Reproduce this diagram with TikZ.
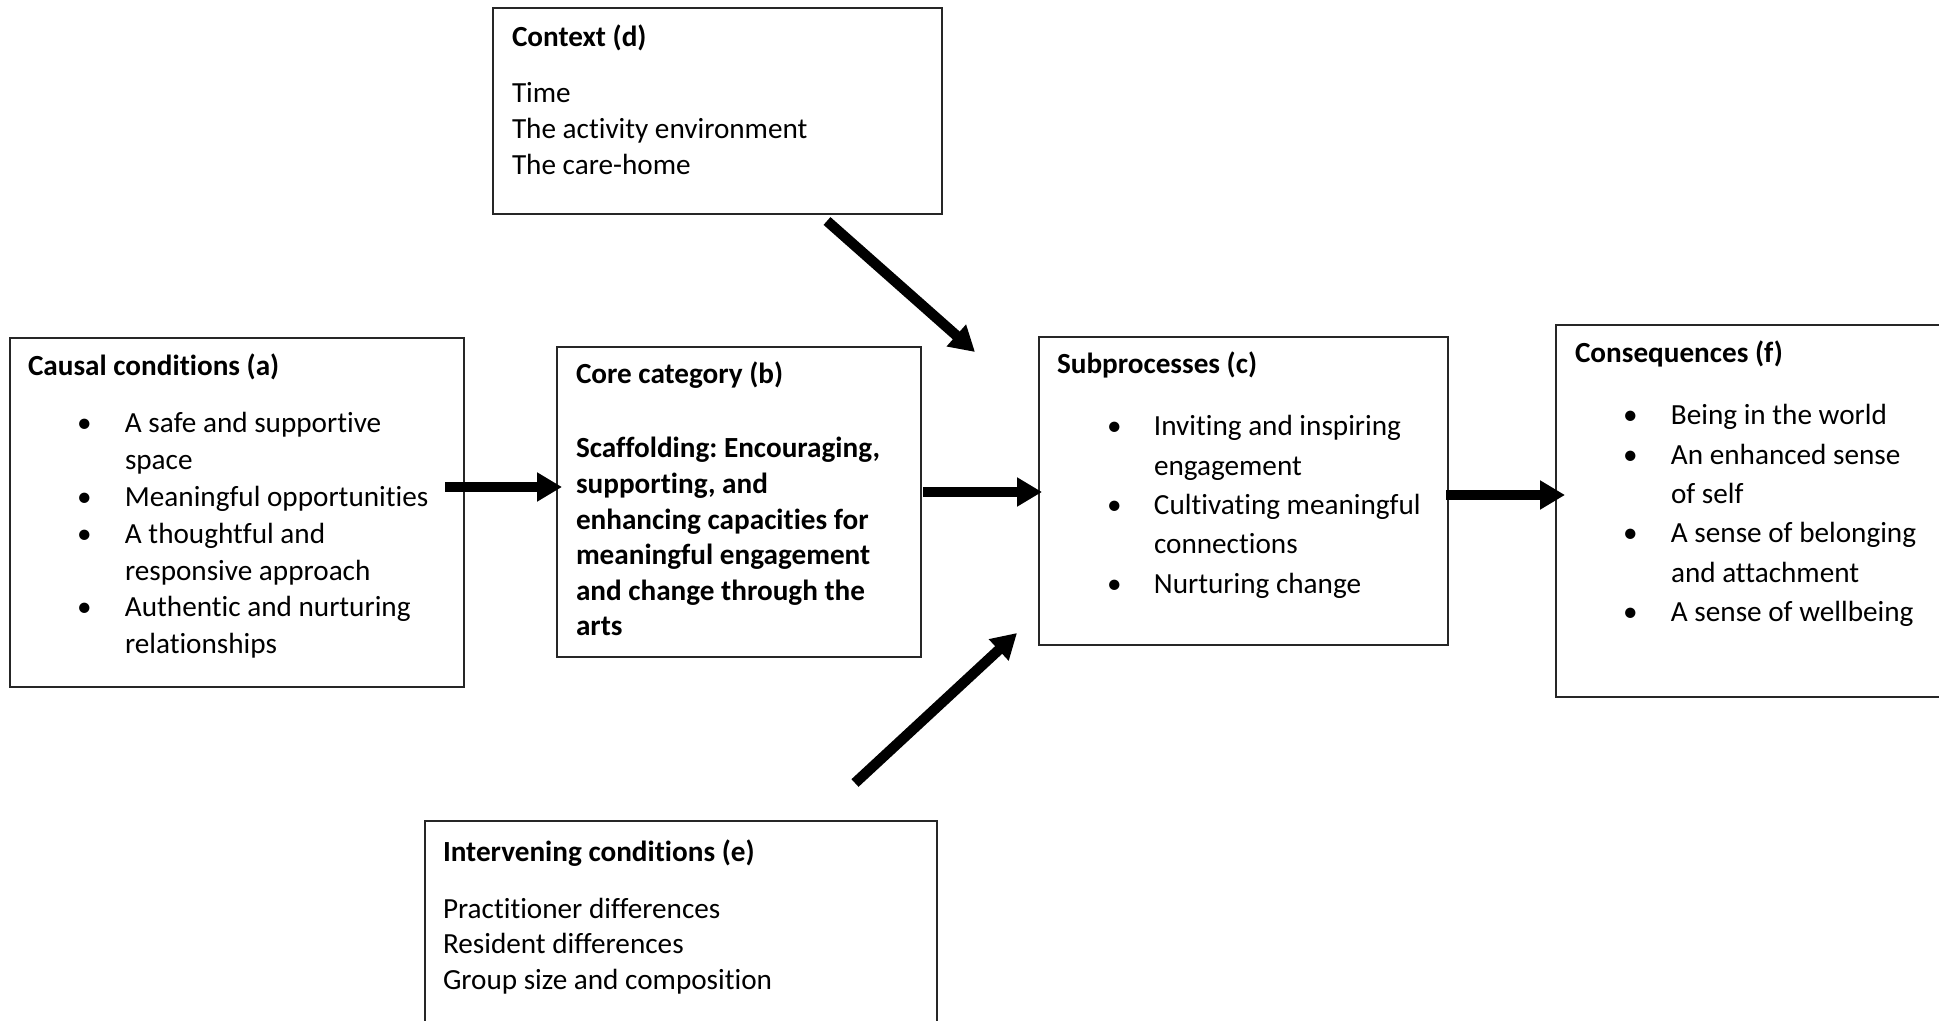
\documentclass[tikz,border=0pt]{standalone}
\usepackage{fontspec}
\setmainfont{Carlito}[Ligatures=NoCommon]
\frenchspacing
\usetikzlibrary{arrows.meta,fit}
\newcommand{\myitem}[2]{\hbox{\makebox[#1][l]{\textbullet}#2}}
\newcommand{\mycont}[2]{\hbox{\hspace*{#1}#2}}
\tikzset{
  box/.style={draw=black!85, line width=1pt, inner sep=0pt, outer sep=0pt, rectangle},
  txt/.style={anchor=base west, inner sep=0pt, outer sep=0pt, font=\fontsize{14.6pt}{17.8pt}\selectfont\frenchspacing, text=black},
  head/.style={txt, font=\fontsize{14.6pt}{17.8pt}\selectfont\frenchspacing\bfseries},
  bigarrow/.style={line width=5.2pt, -{Triangle[length=12.5pt,width=13.8pt]}, black}
}
\begin{document}
\begin{tikzpicture}[x=0.5pt,y=-0.5pt]
\useasboundingbox[fill=white] (0,0) rectangle (1939,1021);

% boxes
\node[box, fit={(10,338) (464,687)}] (a) {};
\node[box, fit={(557,347) (921,657)}] (b) {};
\node[box, fit={(1039,337) (1448,645)}] (c) {};
\node[box, fit={(493,8) (942,214)}] (d) {};
\node[box, fit={(425,821) (937,1030)}] (e) {};
\node[box, fit={(1556,325) (1945,697)}] (f) {};

% box a
\node[head] (ah) at (28,376) {Causal conditions (a)};
\node[txt] (al) at (77,433) {\vtop{\baselineskip=18.4pt
  \myitem{24pt}{A safe and supportive}
  \mycont{24pt}{space}
  \myitem{24pt}{Meaningful opportunities}
  \myitem{24pt}{A thoughtful and}
  \mycont{24pt}{responsive approach}
  \myitem{24pt}{Authentic and nurturing}
  \mycont{24pt}{relationships}}};

% box b
\node[head] (bh) at (576,384) {Core category (b)};
\node[txt, font=\fontsize{14.6pt}{17.8pt}\selectfont\frenchspacing\bfseries] (bl) at (576,458) {\vtop{\baselineskip=17.8pt
  \hbox{Scaffolding: Encouraging,}
  \hbox{supporting, and}
  \hbox{enhancing capacities for}
  \hbox{meaningful engagement}
  \hbox{and change through the}
  \hbox{arts}}};

% box c
\node[head] (ch) at (1057,374) {Subprocesses (c)};
\node[txt] (cl) at (1107,436) {\vtop{\baselineskip=19.65pt
  \myitem{23.5pt}{Inviting and inspiring}
  \mycont{23.5pt}{engagement}
  \myitem{23.5pt}{Cultivating meaningful}
  \mycont{23.5pt}{connections}
  \myitem{23.5pt}{Nurturing change}}};

% box f
\node[head] (fh) at (1575,363) {Consequences (f)};
\node[txt] (fl) at (1623,425) {\vtop{\baselineskip=19.65pt
  \myitem{24pt}{Being in the world}
  \myitem{24pt}{An enhanced sense}
  \mycont{24pt}{of self}
  \myitem{24pt}{A sense of belonging}
  \mycont{24pt}{and attachment}
  \myitem{24pt}{A sense of wellbeing}}};

% box d
\node[head] (dh) at (512,47) {Context (d)};
\node[txt] (dl) at (512,103) {\vtop{\baselineskip=18pt
  \hbox{Time}
  \hbox{The activity environment}
  \hbox{The care-home}}};

% box e
\node[head] (eh) at (443,861) {Intervening conditions (e)};
\node[txt] (el) at (443,918) {\vtop{\baselineskip=17.9pt
  \hbox{Practitioner differences}
  \hbox{Resident differences}
  \hbox{Group size and composition}}};

% arrow end points
\coordinate (ab1) at (445,487);
\coordinate (ab2) at (562,487);
\coordinate (bc1) at (923,492);
\coordinate (bc2) at (1042,492);
\coordinate (cf1) at (1446,495);
\coordinate (cf2) at (1565,495);
\coordinate (dc1) at (827,221);
\coordinate (dc2) at (975,352);
\coordinate (ec1) at (855,783);
\coordinate (ec2) at (1017,633);

\draw[bigarrow] (ab1) -- (ab2);
\draw[bigarrow] (bc1) -- (bc2);
\draw[bigarrow] (cf1) -- (cf2);
\draw[bigarrow] (dc1) -- (dc2);
\draw[bigarrow] (ec1) -- (ec2);
\end{tikzpicture}
\end{document}
